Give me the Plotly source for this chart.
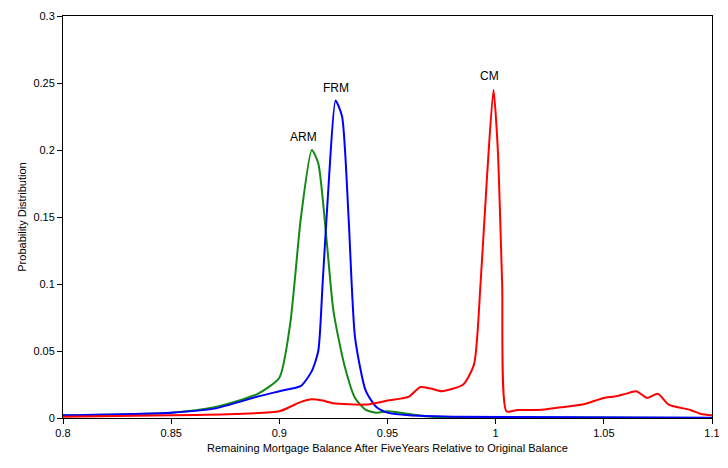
import plotly.graph_objects as go

arm_x = [0.8, 0.85, 0.87, 0.89, 0.9, 0.905, 0.91, 0.915, 0.918, 0.922, 0.925, 0.93, 0.935, 0.94, 0.945, 0.95, 0.96, 0.97, 1.0, 1.1]
arm_y = [0.002, 0.004, 0.008, 0.018, 0.03, 0.07, 0.15, 0.2, 0.19, 0.13, 0.08, 0.04, 0.015, 0.006, 0.004, 0.005, 0.003, 0.001, 0.0005, 0.0]

frm_x = [0.8, 0.85, 0.87, 0.89, 0.9, 0.91, 0.915, 0.918, 0.92, 0.923, 0.926, 0.929, 0.932, 0.935, 0.94, 0.945, 0.95, 0.96, 0.98, 1.1]
frm_y = [0.002, 0.004, 0.007, 0.016, 0.02, 0.024, 0.035, 0.05, 0.1, 0.18, 0.237, 0.225, 0.15, 0.06, 0.02, 0.008, 0.004, 0.002, 0.001, 0.0002]

cm_x = [0.8, 0.85, 0.88, 0.9, 0.91, 0.915, 0.92, 0.925, 0.94, 0.95, 0.96, 0.965, 0.97, 0.975, 0.985, 0.99,
        0.993, 0.996, 0.999, 1.001, 1.003, 1.005, 1.01, 1.02, 1.03, 1.04, 1.05, 1.055, 1.06, 1.065, 1.07,
        1.075, 1.08, 1.09, 1.095, 1.1]
cm_y = [0.001, 0.002, 0.003, 0.005, 0.012, 0.014, 0.013, 0.011, 0.01, 0.013, 0.016, 0.023, 0.022, 0.02, 0.025, 0.04,
        0.1, 0.18, 0.245, 0.2, 0.1, 0.005, 0.006, 0.006, 0.008, 0.01, 0.015, 0.016, 0.018, 0.02, 0.015,
        0.018, 0.01, 0.006, 0.003, 0.002]

labels = ["ARM", "FRM", "CM"]
label_pos = [(0.911, 0.21), (0.926, 0.246), (0.997, 0.255)]

fig = go.Figure()
for x, y, c in [(arm_x, arm_y, "#138a13"), (frm_x, frm_y, "#0000ff"), (cm_x, cm_y, "#ff0000")]:
    fig.add_trace(go.Scatter(x=x, y=y, mode="lines", line=dict(color=c, width=2, shape="spline", smoothing=0.6),
                             showlegend=False))

for t, (lx, ly) in zip(labels, label_pos):
    fig.add_annotation(x=lx, y=ly, text=t, showarrow=False, font=dict(size=12, color="black"))

axis = dict(showline=True, linecolor="black", linewidth=1, mirror=True, showgrid=False, zeroline=False,
            ticks="outside", ticklen=5, tickcolor="black", tickfont=dict(size=11, color="black"))
fig.update_xaxes(range=[0.8, 1.1], dtick=0.05, tickformat="~g",
                 title=dict(text="Remaining Mortgage Balance After FiveYears Relative to Original Balance",
                            font=dict(size=11, color="black"), standoff=6), **axis)
fig.update_yaxes(range=[0, 0.3], dtick=0.05, tickformat="~g",
                 title=dict(text="Probability Distribution", font=dict(size=11, color="black"), standoff=4), **axis)
fig.update_layout(width=720, height=460, margin=dict(l=55, r=16, t=8, b=50, autoexpand=False),
                  plot_bgcolor="white", paper_bgcolor="white",
                  font=dict(family="Liberation Sans, Arial", color="black"))
fig.write_html("out.html")
